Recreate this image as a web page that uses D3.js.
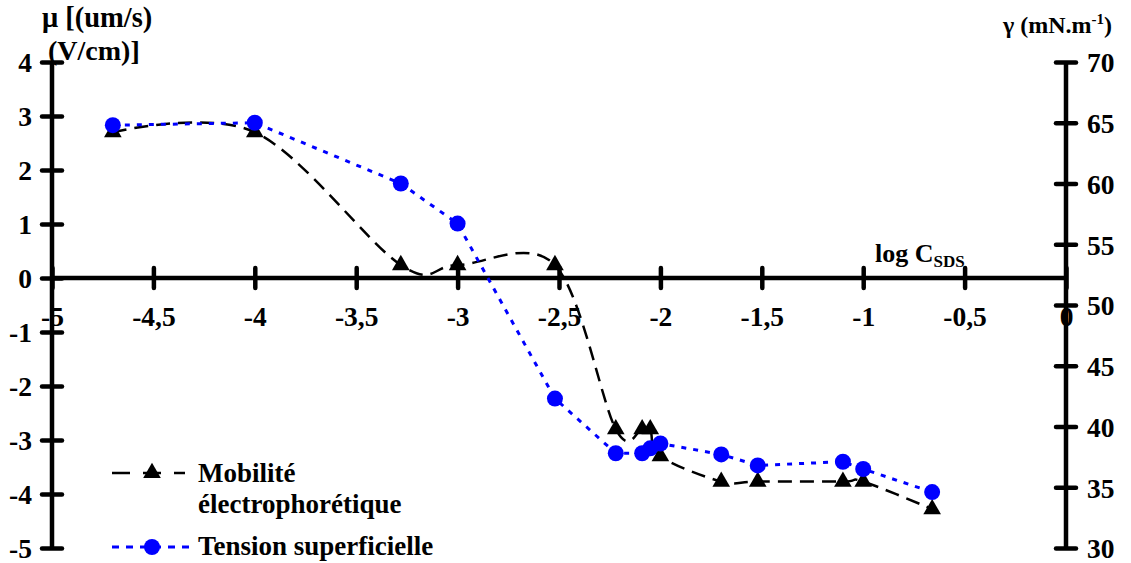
<!DOCTYPE html>
<html>
<head>
<meta charset="utf-8">
<script src="https://cdn.jsdelivr.net/npm/d3@7/dist/d3.min.js"></script>
<style>
  html, body { margin: 0; padding: 0; background: #fff; }
  svg { display: block; }
</style>
</head>
<body>
<svg id="chart" width="1131" height="563"></svg>
<script>
// ---- Data ----
const logC = [-4.7, -4.0, -3.28, -3.0, -2.52, -2.22, -2.09, -2.05, -2.0, -1.7, -1.52, -1.1, -1.0, -0.66];
const mobility = [2.7, 2.7, 0.24, 0.24, 0.24, -2.8, -2.8, -2.8, -3.3, -3.77, -3.77, -3.77, -3.77, -4.28];
const tension = [64.8, 65.0, 60.0, 56.7, 42.3, 37.8, 37.8, 38.2, 38.6, 37.7, 36.8, 37.1, 36.5, 34.6];
const xTicks = [-5, -4.5, -4, -3.5, -3, -2.5, -2, -1.5, -1, -0.5, 0];
const yLeftTicks = [-5, -4, -3, -2, -1, 0, 1, 2, 3, 4];
const yRightTicks = [30, 35, 40, 45, 50, 55, 60, 65, 70];
const seriesNames = ["Mobilité", "électrophorétique", "Tension superficielle"];

// ---- Layout ----
const FONT = "'Times New Roman', 'Liberation Serif', Tinos, 'DejaVu Serif', serif";
const svg = d3.select("#chart");
const pLeft = 52, pRight = 1066, pTop = 62, pBottom = 548;

const x = d3.scaleLinear().domain([-5, 0]).range([pLeft, pRight]);
const yL = d3.scaleLinear().domain([-5, 4]).range([pBottom, pTop]);
const yR = d3.scaleLinear().domain([30, 70]).range([pBottom, pTop]);

const fmt = d => String(d).replace(".", ",");
const AXW = 4.5;
const TICKFS = 27.5;

function styleText(sel) {
  return sel.style("font-family", FONT).style("font-weight", "bold").attr("fill", "#000");
}

// Left axis
const gL = svg.append("g").attr("transform", `translate(${pLeft},0)`)
  .call(d3.axisLeft(yL).tickValues(yLeftTicks).tickSize(10).tickFormat(fmt));
gL.select(".domain").remove();
gL.selectAll(".tick line").attr("x1", -10).attr("x2", 10).attr("stroke", "#000").attr("stroke-width", AXW).attr("stroke-linecap", "round");
styleText(gL.selectAll(".tick text")).attr("x", -20).attr("dy", "0.36em").attr("font-size", TICKFS);
gL.append("line").attr("x1", 0).attr("x2", 0).attr("y1", pTop).attr("y2", pBottom).attr("stroke", "#000").attr("stroke-width", AXW);

// Right axis
const gR = svg.append("g").attr("transform", `translate(${pRight},0)`)
  .call(d3.axisRight(yR).tickValues(yRightTicks).tickSize(10).tickFormat(fmt));
gR.select(".domain").remove();
gR.selectAll(".tick line").attr("x1", -10).attr("x2", 10).attr("stroke", "#000").attr("stroke-width", AXW).attr("stroke-linecap", "round");
styleText(gR.selectAll(".tick text")).attr("x", 21).attr("dy", "0.36em").attr("font-size", TICKFS);
gR.append("line").attr("x1", 0).attr("x2", 0).attr("y1", pTop).attr("y2", pBottom).attr("stroke", "#000").attr("stroke-width", AXW);

// X axis (at mu = 0)
const gX = svg.append("g").attr("transform", `translate(0,${yL(0)})`)
  .call(d3.axisBottom(x).tickValues(xTicks).tickSize(10).tickFormat(fmt));
gX.select(".domain").remove();
gX.selectAll(".tick line").attr("y1", -10).attr("y2", 10).attr("stroke", "#000").attr("stroke-width", AXW).attr("stroke-linecap", "round");
styleText(gX.selectAll(".tick text")).attr("y", 48).attr("dy", 0).attr("font-size", TICKFS);
gX.append("line").attr("x1", pLeft).attr("x2", pRight).attr("y1", 0).attr("y2", 0).attr("stroke", "#000").attr("stroke-width", AXW);

// ---- Series ----
const ptsM = logC.map((c, i) => [x(c), yL(mobility[i])]);
const ptsT = logC.map((c, i) => [x(c), yR(tension[i])]);

svg.append("path")
  .attr("d", d3.line().curve(d3.curveCardinal.tension(0))(ptsM))
  .attr("fill", "none").attr("stroke", "#000").attr("stroke-width", 2.5)
  .attr("stroke-dasharray", "14,8");

svg.append("path")
  .attr("d", d3.line()(ptsT))
  .attr("fill", "none").attr("stroke", "#0000ff").attr("stroke-width", 3)
  .attr("stroke-dasharray", "5,7");

const tri = d3.symbol().type(d3.symbolTriangle).size(135);
svg.append("g").selectAll("path").data(ptsM).join("path")
  .attr("d", tri).attr("transform", d => `translate(${d[0]},${d[1]})`).attr("fill", "#000");

svg.append("g").selectAll("circle").data(ptsT).join("circle")
  .attr("cx", d => d[0]).attr("cy", d => d[1]).attr("r", 8).attr("fill", "#0000ff");

// ---- Axis titles ----
styleText(svg.append("text")).attr("x", 42).attr("y", 27).attr("font-size", 28.5).text("μ [(um/s)");
styleText(svg.append("text")).attr("x", 48).attr("y", 60).attr("font-size", 28).text("(V/cm)]");
const gt = styleText(svg.append("text")).attr("x", 1003).attr("y", 33).attr("font-size", 24);
gt.append("tspan").text("γ (mN.m");
gt.append("tspan").attr("font-size", 15).attr("dy", -9).text("-1");
gt.append("tspan").attr("dy", 9).text(")");
const lt = styleText(svg.append("text")).attr("x", 875).attr("y", 262).attr("font-size", 26);
lt.append("tspan").text("log C");
lt.append("tspan").attr("font-size", 17).attr("dy", 5).text("SDS");

// ---- Legend ----
svg.append("line").attr("x1", 112).attr("x2", 185).attr("y1", 473).attr("y2", 473)
  .attr("stroke", "#000").attr("stroke-width", 2.5).attr("stroke-dasharray", "18,13");
svg.append("path").attr("d", tri).attr("transform", "translate(152,473)").attr("fill", "#000");
styleText(svg.append("text")).attr("x", 198).attr("y", 482).attr("font-size", 27).text(seriesNames[0]);
styleText(svg.append("text")).attr("x", 198).attr("y", 513).attr("font-size", 27).text(seriesNames[1]);
svg.append("line").attr("x1", 112).attr("x2", 193).attr("y1", 547).attr("y2", 547)
  .attr("stroke", "#0000ff").attr("stroke-width", 3).attr("stroke-dasharray", "7,7");
svg.append("circle").attr("cx", 152).attr("cy", 547).attr("r", 8).attr("fill", "#0000ff");
styleText(svg.append("text")).attr("x", 198).attr("y", 555).attr("font-size", 27).text(seriesNames[2]);
</script>
</body>
</html>
